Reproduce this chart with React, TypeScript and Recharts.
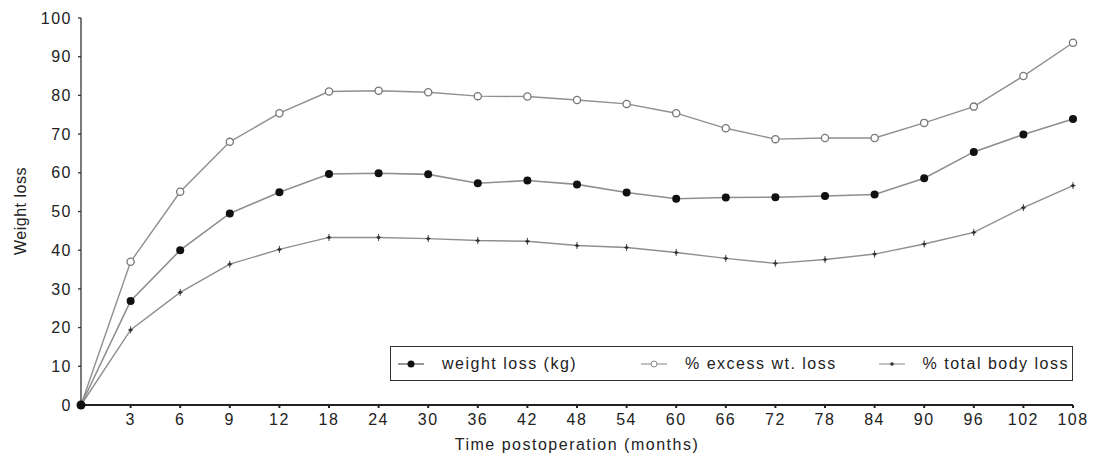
import { LineChart, Line, XAxis, YAxis, Legend } from "recharts";

const months: number[] = [0, 3, 6, 9, 12, 18, 24, 30, 36, 42, 48, 54, 60, 66, 72, 78, 84, 90, 96, 102, 108];

const weightLossKg: number[] = [
  0, 26.9, 40.0, 49.5, 55.0, 59.7, 59.9, 59.6, 57.3, 58.0, 57.0, 54.9, 53.3, 53.6, 53.7, 54.0, 54.4, 58.6, 65.4, 69.9, 73.9,
];

const excessWtLoss: number[] = [
  0, 37.0, 55.1, 68.0, 75.4, 81.0, 81.2, 80.8, 79.8, 79.7, 78.8, 77.8, 75.4, 71.5, 68.7, 69.0, 69.0, 72.9, 77.1, 85.0, 93.6,
];

const totalBodyLoss: number[] = [
  0, 19.4, 29.1, 36.4, 40.2, 43.3, 43.3, 43.0, 42.5, 42.3, 41.2, 40.7, 39.4, 37.9, 36.6, 37.6, 39.0, 41.6, 44.6, 51.0, 56.7,
];

const yTicks: number[] = [0, 10, 20, 30, 40, 50, 60, 70, 80, 90, 100];

const data = months.map((m, i) => ({
  month: m,
  kg: weightLossKg[i],
  excess: excessWtLoss[i],
  total: totalBodyLoss[i],
}));

const FONT = "'Liberation Sans', Arial, sans-serif";
const LINE = "#8f8f8f";
const INK = "#222";

const FilledDot = (props: any) => {
  const { cx, cy, index } = props;
  if (cx == null || cy == null) return null;
  return <circle key={`k${index}`} cx={cx} cy={cy} r={index === 0 ? 4.5 : 4} fill="#111" />;
};

const OpenDot = (props: any) => {
  const { cx, cy, index } = props;
  if (cx == null || cy == null || index === 0) return null;
  return <circle key={`e${index}`} cx={cx} cy={cy} r={3.6} fill="#fff" stroke="#777" strokeWidth={1.3} />;
};

const StarDot = (props: any) => {
  const { cx, cy, index } = props;
  if (cx == null || cy == null || index === 0) return null;
  return (
    <g key={`t${index}`}>
      <line x1={cx} y1={cy - 3.5} x2={cx} y2={cy + 3.5} stroke="#444" strokeWidth={1} />
      <line x1={cx - 2.5} y1={cy} x2={cx + 2.5} y2={cy} stroke="#444" strokeWidth={1} />
      <circle cx={cx} cy={cy} r={1.6} fill="#333" />
    </g>
  );
};

const legendItems = [
  { label: "weight loss (kg)", kind: "kg", width: 243 },
  { label: "% excess wt. loss", kind: "excess", width: 238 },
  { label: "% total body loss", kind: "total", width: 190 },
];

const LegendSymbol = ({ kind }: { kind: string }) => (
  <svg width={26} height={12} style={{ marginRight: 18 }}>
    <line x1={0} y1={6} x2={26} y2={6} stroke={kind === "kg" ? "#555" : "#999"} strokeWidth={1.2} />
    {kind === "kg" && <circle cx={13} cy={6} r={3.5} fill="#111" />}
    {kind === "excess" && <circle cx={13} cy={6} r={3} fill="#fff" stroke="#888" strokeWidth={1} />}
    {kind === "total" && <circle cx={13} cy={6} r={1.8} fill="#333" />}
  </svg>
);

const BoxLegend = () => (
  <div
    style={{
      display: "flex",
      alignItems: "center",
      boxSizing: "border-box",
      width: 683,
      height: 35,
      border: "1.5px solid #333",
      paddingLeft: 7,
      background: "#fff",
      fontFamily: FONT,
      fontSize: 16,
      letterSpacing: 1.5,
      color: INK,
    }}
  >
    {legendItems.map((it) => (
      <div key={it.kind} style={{ display: "flex", alignItems: "center", width: it.width, whiteSpace: "nowrap" }}>
        <LegendSymbol kind={it.kind} />
        <span>{it.label}</span>
      </div>
    ))}
  </div>
);

const tickStyle = { fontFamily: FONT, fontSize: 16, letterSpacing: 1.5, fill: INK };

const WeightLossChart = () => {
  return (
    <div style={{ position: "absolute", left: 0, top: 0, background: "#fff" }}>
      <LineChart
        width={1096}
        height={457}
        data={data}
        margin={{ top: 18, right: 23, left: 6, bottom: 22 }}
      >
        <XAxis
          dataKey="month"
          tickFormatter={(v: any) => (v === 0 ? "" : String(v))}
          tick={tickStyle}
          tickSize={3}
          tickMargin={6}
          stroke="#222"
          strokeWidth={2}
          interval={0}
          height={30}
          label={{
            value: "Time postoperation (months)",
            position: "bottom",
            offset: 4,
            style: { fontFamily: FONT, fontSize: 16, letterSpacing: 1.5, fill: INK },
          }}
        />
        <YAxis
          domain={[0, 100]}
          ticks={yTicks}
          interval={0}
          width={75}
          tick={tickStyle}
          tickSize={3}
          tickMargin={6}
          stroke="#333"
          strokeWidth={1.3}
          label={{
            content: () => (
              <text
                x={20}
                y={211}
                transform="rotate(-90 20 211)"
                textAnchor="middle"
                dominantBaseline="central"
                style={{ fontFamily: FONT, fontSize: 16, letterSpacing: 0.5, fill: INK }}
              >
                Weight loss
              </text>
            ),
          }}
        />
        <Legend
          layout="horizontal"
          verticalAlign="middle"
          align="center"
          content={<BoxLegend />}
          wrapperStyle={{ position: "absolute", left: 390, top: 346, width: 683, bottom: "auto" }}
        />
        <Line
          type="linear"
          dataKey="excess"
          stroke={LINE}
          strokeWidth={1.4}
          dot={<OpenDot />}
          activeDot={false}
          isAnimationActive={false}
        />
        <Line
          type="linear"
          dataKey="kg"
          stroke={LINE}
          strokeWidth={1.6}
          dot={<FilledDot />}
          activeDot={false}
          isAnimationActive={false}
        />
        <Line
          type="linear"
          dataKey="total"
          stroke={LINE}
          strokeWidth={1.4}
          dot={<StarDot />}
          activeDot={false}
          isAnimationActive={false}
        />
      </LineChart>
    </div>
  );
};

export default WeightLossChart;
